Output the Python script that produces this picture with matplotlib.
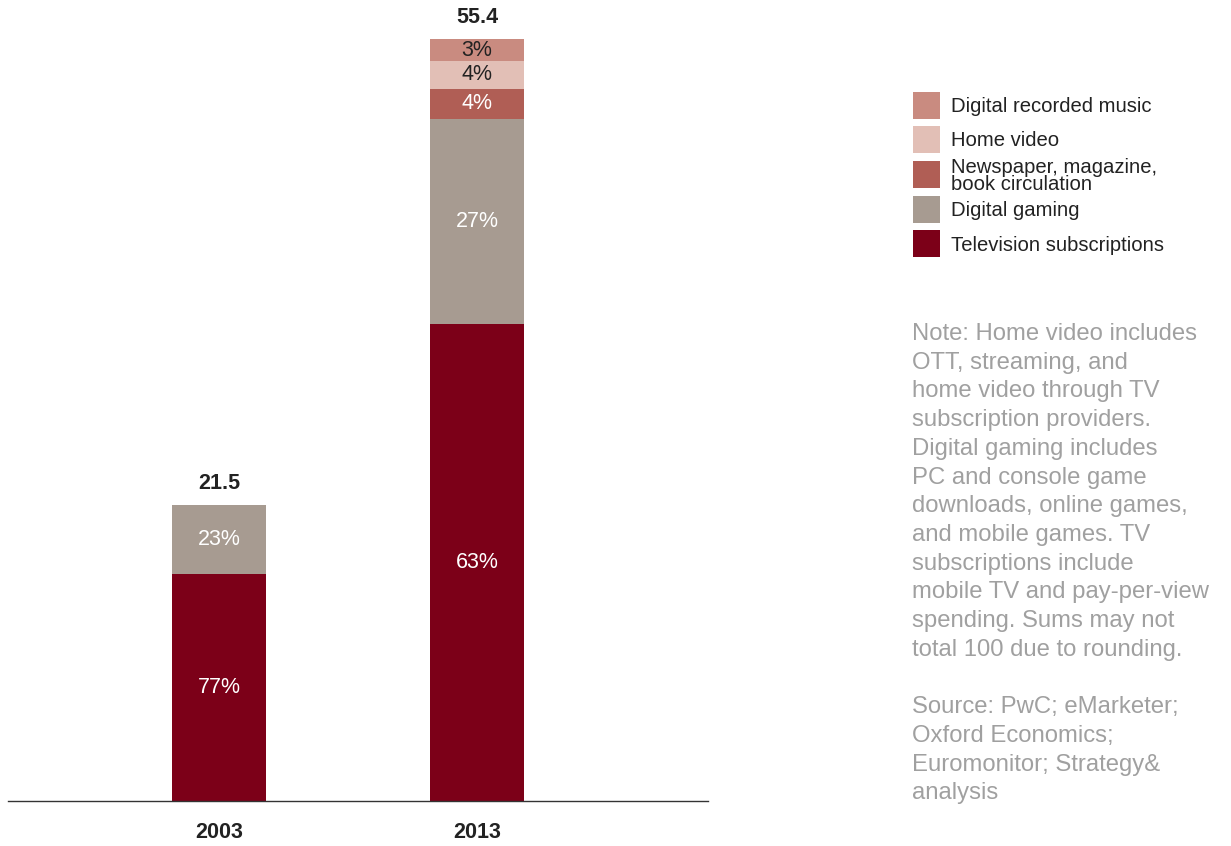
import matplotlib
matplotlib.use("Agg")
import matplotlib.pyplot as plt
from matplotlib.patches import Rectangle

plt.rcParams['font.family'] = ['Liberation Sans', 'DejaVu Sans']

# spending by category, US$ billions (bottom to top of each stack)
years = ['2003', '2013']
categories = ['Television subscriptions', 'Digital gaming',
              'Newspaper, magazine,\nbook circulation', 'Home video',
              'Digital recorded music']
values = {
    'Television subscriptions': [16.5, 34.7],
    'Digital gaming': [5.0, 14.9],
    'Newspaper, magazine,\nbook circulation': [0.0, 2.2],
    'Home video': [0.0, 2.0],
    'Digital recorded music': [0.0, 1.6],
}
totals = [21.5, 55.4]

colors = ['#7c0018', '#a79b91', '#b05e55', '#e2bfb6', '#c98b80']
label_colors = ['white', 'white', 'white', '#222222', '#222222']

note = ("Note: Home video includes\nOTT, streaming, and\n"
        "home video through TV\nsubscription providers.\n"
        "Digital gaming includes\nPC and console game\n"
        "downloads, online games,\nand mobile games. TV\n"
        "subscriptions include\nmobile TV and pay-per-view\n"
        "spending. Sums may not\ntotal 100 due to rounding.\n\n"
        "Source: PwC; eMarketer;\nOxford Economics;\n"
        "Euromonitor; Strategy&\nanalysis")

W, H = 1231, 846
fig = plt.figure(figsize=(W / 100, H / 100), dpi=100)
ax = fig.add_axes([8 / W, 45 / H, 700 / W, 801 / H])

x = list(range(len(years)))
width = 0.364
bottom = [0.0] * len(years)
for cat, col, tcol in zip(categories, colors, label_colors):
    vals = values[cat]
    ax.bar(x, vals, width, bottom=bottom, color=col, edgecolor='none')
    for i, v in enumerate(vals):
        if v > 0:
            pct = round(v / totals[i] * 100)
            ax.text(x[i], bottom[i] + v / 2, f'{pct}%', ha='center',
                    va='center', color=tcol, fontsize=15.5)
    bottom = [b + v for b, v in zip(bottom, vals)]

for i, t in enumerate(totals):
    ax.annotate(f'{t:.1f}', (x[i], bottom[i]), xytext=(0, 8),
                textcoords='offset points', ha='center', va='bottom',
                fontsize=15.5, fontweight='bold', color='#222222')

ax.set_xlim(-0.818, 1.895)
ax.set_ylim(0, 58.25)
ax.set_xticks(x)
ax.set_xticklabels(years, fontsize=15.5, fontweight='bold', color='#222222')
ax.tick_params(axis='x', length=0, pad=15)
ax.set_yticks([])
for s in ['top', 'left', 'right']:
    ax.spines[s].set_visible(False)
ax.spines['bottom'].set_color('#333333')
ax.spines['bottom'].set_linewidth(1.0)

# legend, top entry first
leg_tops = [92, 126, 161, 196, 230]
for top, cat, col in zip(leg_tops, categories[::-1], colors[::-1]):
    fig.add_artist(Rectangle((913 / W, 1 - (top + 27) / H), 27 / W, 27 / H,
                             transform=fig.transFigure, color=col, lw=0))
    fig.text(951 / W, 1 - (top + 15) / H, cat, ha='left', va='center',
             fontsize=14.6, color='#222222', linespacing=0.88)

fig.text(912 / W, 1 - 323 / H, note, ha='left', va='top', fontsize=17.2,
         color='#a0a0a0', linespacing=1.395)

fig.savefig('out.png', dpi=100)
